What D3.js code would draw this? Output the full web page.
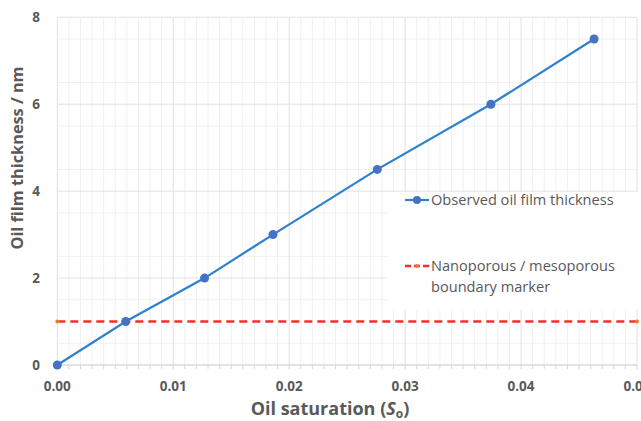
<!DOCTYPE html>
<html>
<head>
<meta charset="utf-8">
<script src="https://cdn.jsdelivr.net/npm/d3@7"></script>
<style>
  body { margin: 0; background: #fff; }
  svg { display: block; font-family: "Open Sans", "Liberation Sans", sans-serif; }
</style>
</head>
<body>
<script>
// observed points
const saturation = [0, 0.0059, 0.0127, 0.0186, 0.0276, 0.0374, 0.0463];
const thickness = [0, 1, 2, 3, 4.5, 6, 7.5];
// boundary marker series
const boundaryX = [0, 0.05];
const boundaryY = [1, 1];
const xTicks = [0, 0.01, 0.02, 0.03, 0.04, 0.05];
const yTicks = [0, 2, 4, 6, 8];
const seriesNames = ["Observed oil film thickness", "Nanoporous / mesoporous", "boundary marker"];

const width = 641, height = 421;

const x = d3.scaleLinear().domain([0, 0.05]).range([57.3, 637]);
const y = d3.scaleLinear().domain([0, 8]).range([365, 17.3]);

const svg = d3.select("body").append("svg")
  .attr("width", width).attr("height", height);

// minor grid
const grid = svg.append("g");
grid.selectAll(".vminor")
  .data(d3.range(1, 50).map(i => i / 1000).filter((d, i) => (i + 1) % 10 !== 0))
  .join("line")
  .attr("x1", d => x(d)).attr("x2", d => x(d))
  .attr("y1", y(0)).attr("y2", y(8))
  .attr("stroke", "#f0f0f0").attr("stroke-width", 1);
grid.selectAll(".hminor")
  .data(d3.range(0.5, 8, 1))
  .join("line")
  .attr("x1", x(0)).attr("x2", x(0.05))
  .attr("y1", d => y(d)).attr("y2", d => y(d))
  .attr("stroke", "#f0f0f0").attr("stroke-width", 1);
// major grid
grid.append("g").selectAll("line")
  .data(xTicks)
  .join("line")
  .attr("x1", d => x(d)).attr("x2", d => x(d))
  .attr("y1", y(0)).attr("y2", y(8))
  .attr("stroke", "#e2e2e2").attr("stroke-width", 1);
grid.append("g").selectAll("line")
  .data(yTicks)
  .join("line")
  .attr("x1", x(0)).attr("x2", x(0.05))
  .attr("y1", d => y(d)).attr("y2", d => y(d))
  .attr("stroke", "#e2e2e2").attr("stroke-width", 1);

// x axis minor ticks
svg.append("g").selectAll("line")
  .data(d3.range(0, 51).map(i => i / 1000))
  .join("line")
  .attr("x1", d => x(d)).attr("x2", d => x(d))
  .attr("y1", y(0)).attr("y2", y(0) + 4)
  .attr("stroke", "#d9d9d9");
svg.append("line")
  .attr("x1", x(0)).attr("x2", x(0.05))
  .attr("y1", y(0)).attr("y2", y(0))
  .attr("stroke", "#d4d4d4");

// legend box hides grid behind it
svg.append("rect")
  .attr("x", 387).attr("y", 192).attr("width", 260).attr("height", 118)
  .attr("fill", "#fff");

// tick labels
svg.append("g").selectAll("text")
  .data(xTicks)
  .join("text")
  .attr("x", d => x(d)).attr("y", 391)
  .attr("text-anchor", "middle")
  .attr("font-size", 13.5).attr("font-weight", "bold").attr("fill", "#595959")
  .text(d => d.toFixed(2));
svg.append("g").selectAll("text")
  .data(yTicks)
  .join("text")
  .attr("x", 40).attr("y", d => y(d) + 5)
  .attr("text-anchor", "end")
  .attr("font-size", 13.5).attr("font-weight", "bold").attr("fill", "#595959")
  .text(d => d);

// axis titles
const xt = svg.append("text")
  .attr("x", 330).attr("y", 415)
  .attr("text-anchor", "middle")
  .attr("font-size", 18).attr("font-weight", "bold").attr("fill", "#595959");
xt.append("tspan").text("Oil saturation (");
xt.append("tspan").attr("font-style", "italic").text("S");
xt.append("tspan").attr("font-size", 12).attr("dy", 3).text("o");
xt.append("tspan").attr("dy", -3).text(")");

svg.append("text")
  .attr("transform", "translate(23,158) rotate(-90)")
  .attr("text-anchor", "middle")
  .attr("font-size", 16.3).attr("font-weight", "bold").attr("fill", "#595959")
  .text("Oil film thickness / nm");

// boundary series
const line = d3.line().x(d => x(d[0])).y(d => y(d[1]));
const bData = d3.zip(boundaryX, boundaryY);
svg.append("path")
  .attr("d", line(bData))
  .attr("fill", "none").attr("stroke", "#ff2a2a")
  .attr("stroke-width", 2.5).attr("stroke-dasharray", "8,5");
svg.append("g").selectAll("circle")
  .data(bData)
  .join("circle")
  .attr("cx", d => x(d[0])).attr("cy", d => y(d[1])).attr("r", 2)
  .attr("fill", "#ed7d31");

// observed series
const oData = d3.zip(saturation, thickness);
svg.append("path")
  .attr("d", line(oData))
  .attr("fill", "none").attr("stroke", "#2f80cf").attr("stroke-width", 2.2);
svg.append("g").selectAll("circle")
  .data(oData)
  .join("circle")
  .attr("cx", d => x(d[0])).attr("cy", d => y(d[1])).attr("r", 4.5)
  .attr("fill", "#4472c4");

// legend
const lg = svg.append("g");
lg.append("line")
  .attr("x1", 405).attr("x2", 429).attr("y1", 200).attr("y2", 200)
  .attr("stroke", "#2f80cf").attr("stroke-width", 2.2);
lg.append("circle").attr("cx", 417).attr("cy", 200).attr("r", 4).attr("fill", "#4472c4");
lg.append("text")
  .attr("x", 431).attr("y", 205)
  .attr("font-size", 14.6).attr("fill", "#595959")
  .text(seriesNames[0]);
lg.append("line")
  .attr("x1", 405).attr("x2", 429).attr("y1", 266).attr("y2", 266)
  .attr("stroke", "#ff2a2a").attr("stroke-width", 2.5).attr("stroke-dasharray", "6,3");
lg.append("circle").attr("cx", 417).attr("cy", 266).attr("r", 2).attr("fill", "#ed7d31");
lg.append("text")
  .attr("x", 431).attr("y", 271)
  .attr("font-size", 14.6).attr("fill", "#595959")
  .text(seriesNames[1]);
lg.append("text")
  .attr("x", 431).attr("y", 292)
  .attr("font-size", 14.6).attr("fill", "#595959")
  .text(seriesNames[2]);
</script>
</body>
</html>
